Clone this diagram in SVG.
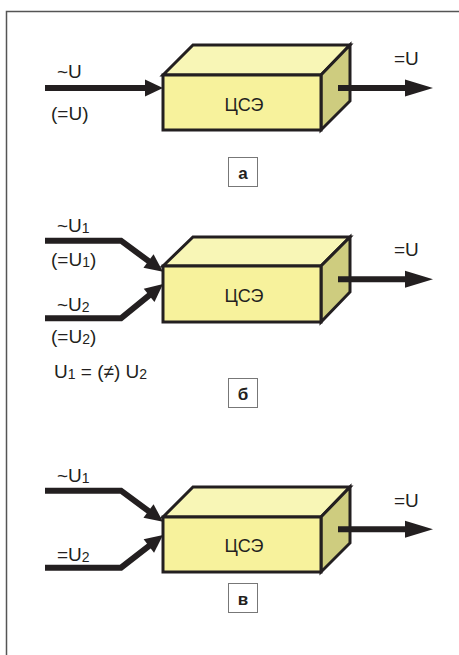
<svg xmlns="http://www.w3.org/2000/svg" width="459" height="655" viewBox="0 0 459 655">
<style>
.t{font-family:"Liberation Sans",Arial,sans-serif;font-size:19px;fill:#231f20}
.s{font-size:14px}
.c{font-family:"Liberation Sans",Arial,sans-serif;font-size:18px;fill:#231f20;text-anchor:middle}
.lb{font-family:"Liberation Sans",Arial,sans-serif;font-size:17px;font-weight:bold;fill:#231f20;text-anchor:middle}
.lbox{fill:#fff;stroke:#777;stroke-width:1}
.front{fill:#F7F29C;stroke:#231f20;stroke-width:3;stroke-linejoin:miter}
.top{fill:#F8F6B6;stroke:#231f20;stroke-width:3;stroke-linejoin:miter}
.side{fill:#CECC7F;stroke:#231f20;stroke-width:3;stroke-linejoin:miter}
.w{fill:none;stroke:#231f20;stroke-width:6;stroke-linejoin:miter}
.in{marker-end:url(#hin)}
.out{marker-end:url(#hout)}
</style>
<defs>
<marker id="hin" markerUnits="userSpaceOnUse" markerWidth="20" markerHeight="18" refX="4" refY="8.5" orient="auto" overflow="visible">
<path d="M0,0 L18,8.5 L0,17 z" fill="#231f20"/>
</marker>
<marker id="hout" markerUnits="userSpaceOnUse" markerWidth="30" markerHeight="18" refX="14" refY="8.5" orient="auto" overflow="visible">
<path d="M0,0 L28,8.5 L0,17 z" fill="#231f20"/>
</marker>
</defs>
<g id="frame">
<path d="M6.5,655 V11.5 H459" fill="none" stroke="#555" stroke-width="1.5"/>
</g>
<!-- Panel a -->
<g id="box-a">
<polygon class="top" points="163,75 193,45 350,45 321,75"/>
<polygon class="side" points="321,75 350,45 350,101 321,130"/>
<rect class="front" x="163" y="75" width="158" height="55"/>
<text class="c" x="244" y="111">ЦСЭ</text>
</g>
<g id="label-a">
<rect class="lbox" x="228.5" y="157.5" width="29" height="29"/>
<text class="lb" x="243" y="179">а</text>
</g>
<g id="texts-a">
<text class="t" x="57" y="78">~U</text>
<text class="t" x="51" y="120">(=U)</text>
<text class="t" x="394" y="65">=U</text>
</g>
<!-- Panel b -->
<g id="box-b">
<polygon class="top" points="163,266 193,237 350,237 321,266"/>
<polygon class="side" points="321,266 350,237 350,292 321,322"/>
<rect class="front" x="163" y="266" width="158" height="56"/>
<text class="c" x="244" y="302">ЦСЭ</text>
</g>
<g id="label-b">
<rect class="lbox" x="228.5" y="378.5" width="29" height="29"/>
<text class="lb" x="243" y="400">б</text>
</g>
<g id="texts-b">
<text class="t" x="57" y="232">~U<tspan class="s" dy="1">1</tspan></text>
<text class="t" x="51" y="266">(=U<tspan class="s" dy="1">1</tspan><tspan dy="-1">)</tspan></text>
<text class="t" x="57" y="311">~U<tspan class="s" dy="1">2</tspan></text>
<text class="t" x="51" y="343">(=U<tspan class="s" dy="1">2</tspan><tspan dy="-1">)</tspan></text>
<text class="t" x="54" y="378">U<tspan class="s" dy="1">1</tspan><tspan dy="-1"> = (≠) U</tspan><tspan class="s" dy="1">2</tspan></text>
<text class="t" x="394" y="256">=U</text>
</g>
<!-- Panel c -->
<g id="box-c">
<polygon class="top" points="163,517 193,487 350,487 321,517"/>
<polygon class="side" points="321,517 350,487 350,543 321,572"/>
<rect class="front" x="163" y="517" width="158" height="55"/>
<text class="c" x="244" y="552">ЦСЭ</text>
</g>
<g id="label-c">
<rect class="lbox" x="228.5" y="583.5" width="29" height="29"/>
<text class="lb" x="243" y="605">в</text>
</g>
<g id="texts-c">
<text class="t" x="57" y="482">~U<tspan class="s" dy="1">1</tspan></text>
<text class="t" x="57" y="561">=U<tspan class="s" dy="1">2</tspan></text>
<text class="t" x="394" y="507">=U</text>
</g>
<g id="connectors">
<path class="w in" d="M45,88 H149"/>
<path class="w out" d="M338,88 H419"/>
<path class="w in" d="M45,240.7 H121 L151.7,263.4"/>
<path class="w in" d="M45,318.3 H121 L152.2,292.9"/>
<path class="w out" d="M338,279.3 H419"/>
<path class="w in" d="M45,490.7 H121 L151.7,513.4"/>
<path class="w in" d="M45,567.7 H121 L152,543.6"/>
<path class="w out" d="M338,529.3 H419"/>
</g>
</svg>
